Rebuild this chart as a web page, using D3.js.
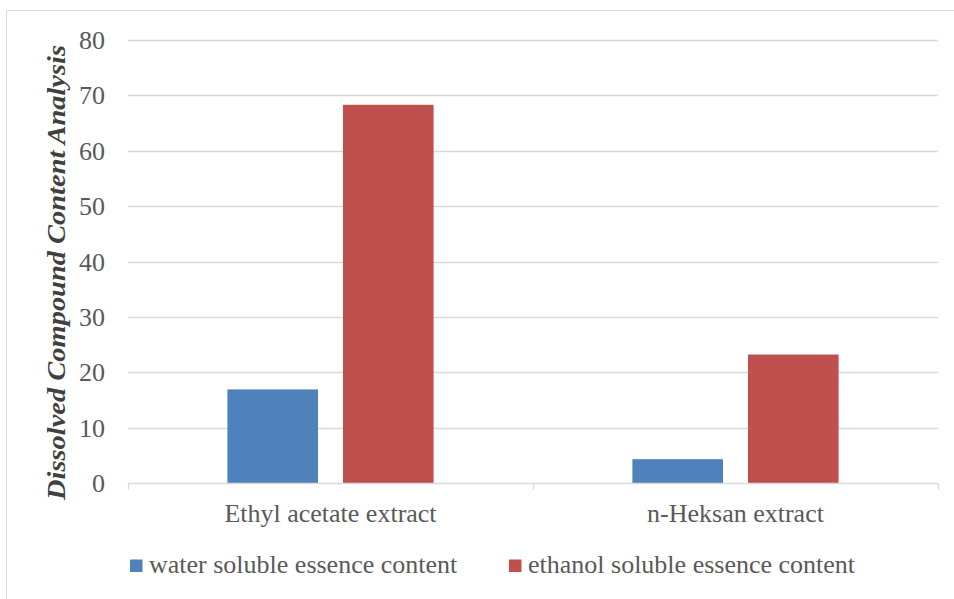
<!DOCTYPE html>
<html>
<head>
<meta charset="utf-8">
<script src="https://cdn.jsdelivr.net/npm/d3@7"></script>
<style>
  html, body { margin: 0; padding: 0; background: #fff; }
  svg { display: block; }
  text { font-family: "Liberation Serif", "Times New Roman", serif; }
</style>
</head>
<body>
<svg id="chart" width="954" height="599"></svg>
<script>
// Extracts and their measured dissolved compound contents
const categories = ["Ethyl acetate extract", "n-Heksan extract"];
const seriesNames = ["water soluble essence content", "ethanol soluble essence content"];
const waterSoluble = [16.9, 4.3];
const ethanolSoluble = [68.3, 23.2];
const yTicks = [0, 10, 20, 30, 40, 50, 60, 70, 80];
const yTitle = "Dissolved Compound Content Analysis";

const colors = ["#4f81bd", "#c0504d"];
const seriesValues = [waterSoluble, ethanolSoluble];

const svg = d3.select("#chart");
const plot = { left: 128, right: 938, top: 40, bottom: 483 };

// Outer chart frame (top and left edges visible)
svg.append("path")
  .attr("d", "M6.5,599 L6.5,10.5 L954,10.5")
  .attr("fill", "none")
  .attr("stroke", "#d9d9d9")
  .attr("stroke-width", 1);

const y = d3.scaleLinear().domain([0, 80]).range([plot.bottom, plot.top]);
const x0 = d3.scaleBand().domain(categories).range([plot.left, plot.right]).padding(0);
const x1 = d3.scaleBand().domain(seriesNames).range([0, x0.bandwidth()])
  .paddingInner(0.216).paddingOuter(0.86);

// Horizontal gridlines
svg.append("g")
  .selectAll("line")
  .data(yTicks.filter(d => d > 0))
  .join("line")
  .attr("x1", plot.left).attr("x2", plot.right)
  .attr("y1", d => Math.round(y(d)) + 0.5).attr("y2", d => Math.round(y(d)) + 0.5)
  .attr("stroke", "#d9d9d9").attr("stroke-width", 1.3);

// Y axis labels
const yAxis = d3.axisLeft(y).tickValues(yTicks).tickSize(0).tickPadding(23).tickFormat(d3.format("d"));
const yg = svg.append("g").attr("transform", `translate(${plot.left},0)`).call(yAxis);
yg.select(".domain").remove();
yg.selectAll("text")
  .attr("font-family", "Liberation Serif, serif")
  .attr("font-size", 26)
  .attr("fill", "#595959")
  .attr("dy", "0.33em");

// Bars
const groups = svg.append("g")
  .selectAll("g")
  .data(categories)
  .join("g")
  .attr("transform", d => `translate(${x0(d)},0)`);

groups.selectAll("rect")
  .data((c, i) => seriesNames.map((s, j) => ({ s, v: seriesValues[j][i], j })))
  .join("rect")
  .attr("x", d => x1(d.s))
  .attr("width", x1.bandwidth())
  .attr("y", d => y(d.v))
  .attr("height", d => y(0) - y(d.v))
  .attr("fill", d => colors[d.j]);

// X axis line with category boundary ticks
const xg = svg.append("g").attr("transform", `translate(0,${Math.round(y(0)) + 0.5})`);
xg.append("line")
  .attr("x1", plot.left).attr("x2", plot.right)
  .attr("stroke", "#d9d9d9").attr("stroke-width", 1.3);
const boundaries = [plot.left].concat(categories.map(c => x0(c) + x0.bandwidth()));
xg.selectAll(".tick-mark")
  .data(boundaries)
  .join("line")
  .attr("class", "tick-mark")
  .attr("x1", d => Math.round(d) + 0.5).attr("x2", d => Math.round(d) + 0.5)
  .attr("y1", 0).attr("y2", 6)
  .attr("stroke", "#d9d9d9").attr("stroke-width", 1.3);

// Category labels
svg.append("g")
  .selectAll("text")
  .data(categories)
  .join("text")
  .attr("x", d => x0(d) + x0.bandwidth() / 2)
  .attr("y", 522)
  .attr("text-anchor", "middle")
  .attr("font-size", 26)
  .attr("fill", "#595959")
  .text(d => d);

// Y axis title
svg.append("text")
  .attr("transform", `translate(65,${(45 + 500) / 2}) rotate(-90)`)
  .attr("text-anchor", "middle")
  .attr("font-size", 25)
  .attr("font-weight", "bold")
  .attr("font-style", "italic")
  .attr("fill", "#404040")
  .attr("textLength", 455)
  .attr("lengthAdjust", "spacingAndGlyphs")
  .text(yTitle);

// Legend
const legendX = [130, 509];
const legend = svg.append("g")
  .selectAll("g")
  .data(seriesNames)
  .join("g")
  .attr("transform", (d, i) => `translate(${legendX[i]},0)`);
legend.append("rect")
  .attr("x", 0).attr("y", 559.5)
  .attr("width", 12.5).attr("height", 12.5)
  .attr("fill", (d, i) => colors[i]);
legend.append("text")
  .attr("x", 19).attr("y", 573)
  .attr("font-size", 26)
  .attr("fill", "#595959")
  .text(d => d);
</script>
</body>
</html>
